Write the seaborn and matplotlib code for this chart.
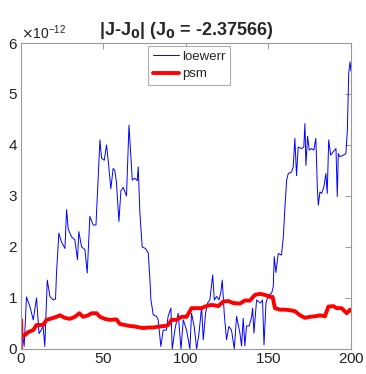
import matplotlib
matplotlib.use('Agg')
import matplotlib.pyplot as plt
import seaborn as sns
import pandas as pd

# loewerr curve (x, value in units of 1e-12)
loew_x = [0, 1, 2, 3.4, 5.5, 7.5, 9.5, 11, 13.5, 14.5, 16, 17.6, 19.6, 21, 21.6, 23, 24.6,
          26.7, 27.7, 28.7, 30.7, 32.7, 34.3, 35.1, 36.8, 38.8, 40.2, 41.8, 43.8, 45.5,
          46.5, 47.9, 48.9, 50.5, 51.9, 53.3, 54.5, 55.9, 56.9, 57.9, 59.4, 60.6, 62,
          64, 65.5, 66.7, 67.5, 69, 70.5, 71.1, 72.1, 73.5, 75.5, 77.2, 78.2, 78.8,
          80.2, 82.2, 83.2, 84.8, 86.2, 88.2, 89.2, 90.9, 91.7, 93.3, 95.3, 97, 98.4,
          100.4, 102.4, 103.4, 105, 106.5, 107.9, 109.5, 110.5, 111.9, 113.1, 114.5,
          116.2, 117.2, 118.6, 120, 121.2, 122, 123.2, 124.6, 126, 127.6, 129.3, 130.7,
          132.7, 133.7, 134.7, 135.7, 136.7, 138.3, 139.8, 140.4, 141.2, 142.8, 143.8,
          145.2, 146.4, 147.3, 148.5, 149.9, 151.9, 152.9, 153.5, 154.5, 155.9, 157.9,
          159, 160, 161, 162, 164, 165, 166, 167, 168, 170, 171.4, 172.1, 172.7, 173.7,
          174.7, 176.1, 177.5, 178.7, 179.6, 180.2, 181.2, 182.2, 183.6, 184.8, 185.6,
          186.5, 187.7, 189.3, 190.9, 191.7, 192.3, 193.3, 195.3, 196.9, 197.8, 198.6,
          199.4, 200]
loew_y = [0.0, 0.3, 0.05, 1.02, 0.83, 0.57, 1.0, 0.3, 0.44, 0.05, 1.35, 1.03, 0.96, 0.98,
          1.49, 2.27, 2.1, 1.97, 2.73, 2.35, 2.2, 2.14, 1.75, 2.3, 2.0, 1.95, 1.49, 2.6,
          2.43, 2.43, 3.12, 4.1, 3.74, 3.7, 4.0, 3.57, 3.14, 3.54, 3.5, 3.27, 2.5, 3.1,
          3.17, 3.0, 4.39, 3.74, 3.31, 3.35, 3.3, 3.57, 2.67, 2.0, 1.97, 1.88, 1.35, 0.96,
          0.67, 0.64, 0.57, 0.05, 0.37, 0.37, 0.64, 0.8, 0.0, 0.37, 0.7, 0.0, 0.57,
          0.37, 0.0, 0.7, 0.44, 0.0, 0.3, 0.83, 0.18, 0.7, 0.9, 0.96,
          1.45, 0.96, 1.03, 0.96, 1.12, 1.35, 0.7, 0.18, 0.44, 0.37, 0.0, 0.64,
          0.31, 0.06, 0.6, 0.06, 0.45, 0.45, 0.63, 0.8, 0.31, 0.96, 0.93,
          0.9, 0.96, 0.08, 0.9, 1.06, 1.09, 1.22, 1.81, 1.5, 1.87, 1.84,
          2.2, 2.79, 3.31, 3.44, 3.47, 3.57, 4.13, 3.4, 3.96, 3.93, 3.96, 4.42, 3.6, 4.17,
          3.9, 3.93, 3.9, 4.13, 3.18, 2.82, 3.08, 3.05, 3.18, 3.44, 3.05,
          4.1, 3.8, 3.87, 3.93, 2.99, 3.83, 3.77, 3.8, 3.83, 4.29, 5.4,
          5.63, 5.45]

# psm curve
psm_x = [0, 0.1, 0.4, 2.4, 4.4, 7.5, 9.5, 13.5, 15.5, 17.6, 21.6, 23.6, 26.7, 29.7, 32.7, 35.4,
         37.8, 40.8, 42.8, 45.9, 47.9, 50.9, 53.9, 57.9, 60, 63, 66, 69.1, 72.1, 74.1,
         77.2, 80.2, 83.8, 87.3, 89.3, 91.3, 94.3, 97.4, 100.4, 103.4, 106.5, 109.5,
         111.5, 114.5, 116.6, 119.6, 122.6, 125.6, 128.7, 132.7, 135.8, 138.8, 141.8,
         144.8, 147.9, 150.9, 152.5, 153.9, 157, 160, 163.1, 166.1, 169.1, 172.1, 175.2,
         178.2, 181.2, 184.2, 186.3, 189.3, 191.3, 194.3, 197.4, 199.4, 200]
psm_y = [0.0, 0.57, 0.25, 0.27, 0.33, 0.37, 0.47, 0.47, 0.57, 0.59, 0.63, 0.66, 0.61, 0.59,
         0.63, 0.7, 0.63, 0.66, 0.7, 0.7, 0.63, 0.59, 0.57, 0.58, 0.49, 0.47, 0.45, 0.44,
         0.42, 0.41, 0.42, 0.42, 0.44, 0.45, 0.47, 0.57, 0.57, 0.63, 0.63, 0.8, 0.8, 0.8,
         0.83, 0.86, 0.86, 0.84, 0.93, 0.94, 0.9, 0.89, 0.95, 0.95, 1.06, 1.08, 1.06,
         1.02, 1.02, 0.8, 0.77, 0.77, 0.76, 0.74, 0.66, 0.61, 0.63, 0.64, 0.66, 0.64,
         0.83, 0.84, 0.8, 0.8, 0.7, 0.77, 0.75]

loew = pd.DataFrame({'x': loew_x, 'y': [v * 1e-12 for v in loew_y]})
psm = pd.DataFrame({'x': psm_x, 'y': [v * 1e-12 for v in psm_y]})

sns.set_style('white')
plt.rcParams['font.family'] = ['Liberation Sans', 'DejaVu Sans']
plt.rcParams['axes.formatter.use_mathtext'] = True

fig = plt.figure(figsize=(3.66, 3.74), dpi=100)
ax = fig.add_axes([0.057, 0.067, 0.902, 0.818])

sns.lineplot(data=loew, x='x', y='y', ax=ax, color='#0000ff', linewidth=0.7,
             label='loewerr', sort=False)
sns.lineplot(data=psm, x='x', y='y', ax=ax, color='#ff0000', linewidth=2.8,
             label='psm', sort=False)

ax.set_xlim(0, 200)
ax.set_ylim(0, 6e-12)
ax.set_xticks([0, 50, 100, 150, 200])
ax.set_yticks([i * 1e-12 for i in range(7)])
ax.set_xlabel('')
ax.set_ylabel('')
ax.ticklabel_format(axis='y', style='sci', scilimits=(-12, -12))
ax.yaxis.get_offset_text().set_fontsize(10)
ax.tick_params(direction='in', length=4, width=0.6, color='#888888',
               labelsize=11, top=True, right=True, pad=2, labelcolor='#222222')
for s in ax.spines.values():
    s.set_color('#999999')
    s.set_linewidth(0.8)

ax.set_title('|J-J$_\\mathbf{0}$| (J$_\\mathbf{0}$ = -2.37566)', fontsize=13,
             fontweight='bold', pad=6)

leg = ax.legend(loc='upper left', bbox_to_anchor=(0.385, 0.99), fontsize=9.5,
                frameon=True, fancybox=False, borderpad=0.35, handlelength=2.0,
                handletextpad=0.25, labelspacing=0.4, borderaxespad=0)
leg.get_frame().set_edgecolor('#999999')
leg.get_frame().set_linewidth(0.8)

fig.savefig('out.png', dpi=100)
